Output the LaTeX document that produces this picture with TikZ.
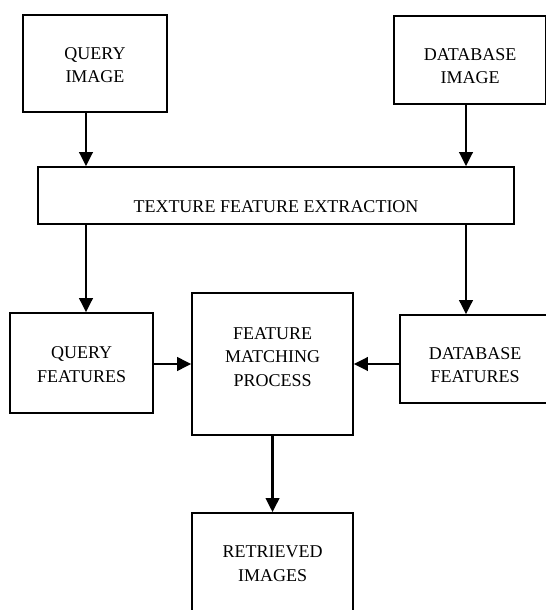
\documentclass[tikz,border=0pt]{standalone}
\usepackage{fontspec}
\setmainfont{Liberation Serif}
\usepackage{tikz}
\usetikzlibrary{arrows.meta,positioning}
\tikzstyle{BlockNode} =[draw,line width=1.2pt,inner sep=0pt,align=center,font=\fontsize{13.5}{17.6}\selectfont]
\tikzstyle{FlowArrow} =[-{Triangle[length=10.5pt,width=10pt]},line width=2pt]

\begin{document}
\begin{tikzpicture}[auto,on grid]
    \useasboundingbox (-204.4pt,-184.5pt) rectangle (204.4pt,273pt);
    \node[BlockNode,minimum width=120.75pt,minimum height=106.5pt,text height=36pt,text depth=2.3pt](Feature-Matching){FEATURE\\ MATCHING\\ PROCESS};
    \node[BlockNode,minimum width=107.25pt,minimum height=75pt,text height=31pt,text depth=2.2pt,left=143.25pt of Feature-Matching,yshift=0.75pt](Query-Features){QUERY\\ FEATURES};
    \node[BlockNode,minimum width=112.5pt,minimum height=66pt,text height=37pt,text depth=1.4pt,right=151.9pt of Feature-Matching,yshift=3.75pt](Database-Features){DATABASE\\ FEATURES};
    \node[BlockNode,minimum width=120.75pt,minimum height=75.75pt,text height=29pt,text depth=2.4pt,below=149.6pt of Feature-Matching](Retrieved-Images){RETRIEVED\\ IMAGES};

    \node[BlockNode,minimum width=357pt,minimum height=42.75pt,text height=28pt,text depth=2.4pt,above=126.4pt of Feature-Matching,xshift=2.6pt](Texture-Extraction){TEXTURE FEATURE EXTRACTION};

    \node[BlockNode,minimum width=108pt,minimum height=72.75pt,text height=31pt,text depth=2.4pt,above=224.6pt of Query-Features,xshift=10.1pt](Query-Image){QUERY\\ IMAGE};
    \node[BlockNode,minimum width=114pt,minimum height=66pt,text height=37pt,text depth=1.4pt,above=224.25pt of Database-Features,xshift=-3.75pt](Database-Image){DATABASE\\ IMAGE};

    % lanes for the vertical arrows
    \coordinate (Left-Lane) at (-139.9pt,0);
    \coordinate (Right-Lane) at (145.1pt,0);

    \draw[FlowArrow] (Query-Image.south -| Left-Lane) -- (Texture-Extraction.north -| Left-Lane);
    \draw[FlowArrow] (Database-Image.south -| Right-Lane) -- (Texture-Extraction.north -| Right-Lane);
    \draw[FlowArrow] (Texture-Extraction.south -| Left-Lane) -- (Query-Features.north -| Left-Lane);
    \draw[FlowArrow] (Texture-Extraction.south -| Right-Lane) -- (Database-Features.north -| Right-Lane);
    \draw[FlowArrow] (Query-Features.east |- Feature-Matching.west) -- (Feature-Matching.west);
    \draw[FlowArrow] (Database-Features.west |- Feature-Matching.east) -- (Feature-Matching.east);
    \draw[FlowArrow] (Feature-Matching.south) -- (Retrieved-Images.north);
\end{tikzpicture}
\end{document}
